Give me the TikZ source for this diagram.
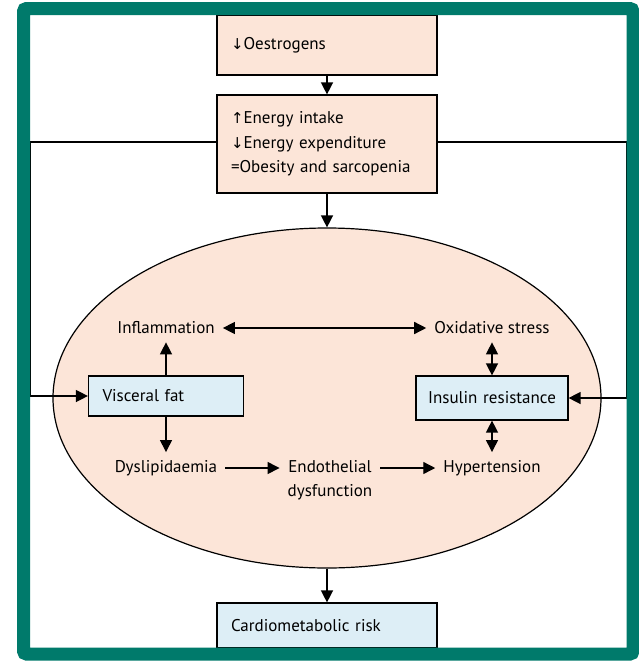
\documentclass[tikz,border=0pt]{standalone}
\usepackage{fontspec}
\setmainfont{PT Sans}
\newfontfamily\arrowfont{DejaVu Sans}
\usetikzlibrary{arrows.meta,shapes.geometric}
\definecolor{peach}{HTML}{FCE5D8}
\definecolor{paleblue}{HTML}{DDEEF6}
\definecolor{framegreen}{HTML}{007A6B}
\newcommand{\arw}[1]{{\arrowfont\fontsize{15}{24}\selectfont #1}}
\tikzset{
  every node/.style={font=\fontsize{17}{24.5}\selectfont},
  peachbox/.style={draw=black, line width=1.2pt, fill=peach, minimum width=220pt, text width=192pt, align=left, inner xsep=14pt, inner ysep=0pt},
  bluebox/.style={draw=black, line width=1.2pt, fill=paleblue, inner xsep=14pt, inner ysep=0pt, align=left},
  lbl/.style={inner sep=8pt},
  arr/.style={line width=1.4pt, -{Triangle[length=12pt,width=12pt]}},
  darr/.style={line width=1.4pt, {Triangle[length=12pt,width=12pt]}-{Triangle[length=12pt,width=12pt]}},
  ln/.style={line width=1.4pt}
}
\begin{document}
\begin{tikzpicture}[x=1pt,y=-1pt]
\useasboundingbox (0,0) rectangle (639,662);
\fill[white] (0,0) rectangle (639,662);
% ellipse
\node[ellipse, draw=black, line width=1.2pt, fill=peach, minimum width=548pt, minimum height=340pt, inner sep=0pt] (ell) at (327,398) {};
% boxes
\node[peachbox, minimum height=60pt] (oes) at (327,45) {\arw{↓}Oestrogens\\[8pt]};
\node[peachbox, minimum height=98pt] (energy) at (327,144) {\arw{↑}Energy intake\\\arw{↓}Energy expenditure\\=Obesity and sarcopenia};
\node[bluebox, minimum width=155pt, minimum height=40pt, text width=127pt] (visc) at (166,396) {Visceral fat};
\node[bluebox, minimum width=152pt, minimum height=44pt, inner xsep=2pt, text width=148pt, align=center] (ins) at (492,398) {Insulin resistance};
\node[bluebox, minimum width=220pt, minimum height=45pt, text width=192pt] (cardio) at (327,625.5) {Cardiometabolic risk};
% labels
\node[lbl] (infl) at (166,328) {Inflammation};
\node[lbl] (oxid) at (492,328) {Oxidative stress};
\node[lbl] (dysl) at (166,468) {Dyslipidaemia};
\node[lbl, align=center] (endo) at (330,480) {Endothelial\\dysfunction};
\node[lbl] (hyper) at (492,468) {Hypertension};
% main chain
\draw[arr] (oes) -- (energy);
\draw[arr] (energy) -- (ell.north);
\draw[arr] (ell.south) -- (cardio);
% feedback lines
\coordinate (lx) at (30,142);
\coordinate (rx) at (627,142);
\draw[arr] (energy.west |- lx) -- (lx) -- (lx |- visc.west) -- (visc.west);
\draw[arr] (energy.east |- rx) -- (rx) -- (rx |- ins.east) -- (ins.east);
% inner connections
\draw[arr] (visc.north) -- (infl.south);
\draw[arr] (visc.south) -- (dysl.north);
\draw[darr] (infl.east) -- (oxid.west);
\draw[darr] (oxid.south) -- (ins.north);
\draw[darr] (ins.south) -- (hyper.north);
\draw[arr] (dysl.east) -- (dysl.east -| endo.west);
\draw[arr] (endo.east |- hyper.west) -- (hyper.west);
% frame
\draw[framegreen, line width=13pt, rounded corners=3pt] (23.5,8.5) rectangle (633,654);
\end{tikzpicture}
\end{document}
